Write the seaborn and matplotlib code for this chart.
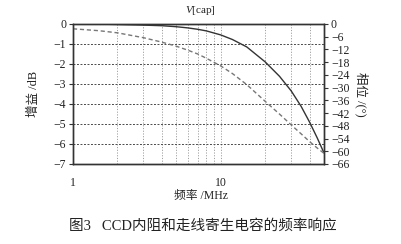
import numpy as np
import pandas as pd
import matplotlib
matplotlib.use("Agg")
import matplotlib.pyplot as plt
from matplotlib.ticker import FixedLocator, NullFormatter
import seaborn as sns

# Data
freq_mhz = [1, 1.5, 2, 3, 4, 5, 6, 7, 8, 10, 12, 15, 20, 25, 30, 35, 40, 45, 50]
gain_db = [0.0, -0.01, -0.03, -0.06, -0.09, -0.14, -0.20, -0.27, -0.35, -0.55,
           -0.78, -1.15, -1.90, -2.62, -3.35, -4.12, -4.92, -5.70, -6.45]
phase_deg = [-2.3, -3.2, -4.2, -6.5, -8.6, -10.5, -12.4, -14.2, -16.2, -19.8,
             -23.4, -28.6, -36.5, -42.5, -47.6, -51.8, -55.5, -58.5, -61.0]
gain_ticks = [0, -1, -2, -3, -4, -5, -6, -7]
phase_ticks = [0, -6, -12, -18, -24, -30, -36, -42, -48, -54, -60, -66]
x_major = [1, 10]
x_grid = [2, 3, 4, 5, 6, 7, 8, 9, 10, 20, 30, 40]

sns.set_theme(style="white")
plt.rcParams['font.family'] = ['Liberation Serif', 'Noto Sans CJK SC', 'DejaVu Sans']
plt.rcParams['mathtext.fontset'] = 'custom'
plt.rcParams['mathtext.it'] = 'Liberation Serif:italic'
plt.rcParams['mathtext.rm'] = 'Liberation Serif'
plt.rcParams['axes.unicode_minus'] = True

df = pd.DataFrame({"freq": freq_mhz, "gain": gain_db, "phase": phase_deg})

fig = plt.figure(figsize=(4.01, 2.44), dpi=100)
ax = fig.add_axes([0.182, 0.328, 0.626, 0.574])
ax2 = ax.twinx()

ax.set_xscale("log")

# grids
for xv in x_grid:
    ax.axvline(xv, color="#a0a0a0", lw=0.7, ls=(0, (1.2, 1.6)), zorder=0.5)
for yv in gain_ticks[1:-1]:
    ax.axhline(yv, color="#4a4a4a", lw=0.7, ls=(0, (2, 1.6)), zorder=0.5)

sns.lineplot(data=df, x="freq", y="gain", ax=ax, color="#333333", lw=1.0,
             estimator=None, sort=True)
sns.lineplot(data=df, x="freq", y="phase", ax=ax2, color="#777777", lw=1.0,
             estimator=None, sort=True, linestyle=(0, (3, 2)))

ax.set_xlim(1, 50)
ax.set_ylim(-7, 0)
ax2.set_ylim(-66, 0)

ax.xaxis.set_major_locator(FixedLocator(x_major))
ax.set_xticklabels([str(v) for v in x_major])
ax.xaxis.set_minor_locator(FixedLocator([v for v in x_grid if v not in x_major]))
ax.xaxis.set_minor_formatter(NullFormatter())
ax.set_yticks(gain_ticks)
ax.set_yticklabels([f"{v}".replace("-", "\u2212") for v in gain_ticks])
ax2.set_yticks(phase_ticks)
ax2.set_yticklabels([f"{v}".replace("-", "\u2212") for v in phase_ticks])

for a in (ax, ax2):
    for s in a.spines.values():
        s.set_color("#333333")
        s.set_linewidth(1.0)
ax.tick_params(axis="y", direction="out", length=3, width=0.8, color="#333333",
               labelsize=8.5, labelcolor="#222222", pad=2)
ax.tick_params(axis="x", which="both", direction="inout", length=3, width=0.8,
               color="#333333", labelsize=8.5, labelcolor="#222222", pad=8)
ax2.tick_params(axis="y", direction="out", length=3, width=0.8, color="#333333",
                labelsize=8.5, labelcolor="#222222", pad=2)

ax.set_xlabel("")
ax.set_ylabel("增益 /dB", fontsize=9, color="#222222", labelpad=10)
ax2.set_ylabel("相位 /(°)", fontsize=9, color="#222222", rotation=270,
               labelpad=14)

fig.text(0.5, 0.958, "$V$[cap]", ha="center", va="center", fontsize=8,
         color="#222222")
fig.text(0.5, 0.197, "频率 /MHz", ha="center", va="center", fontsize=8.5,
         color="#222222")
fig.text(0.507, 0.074, "图3   CCD内阻和走线寄生电容的频率响应", ha="center",
         va="center", fontsize=10.5, color="#222222")

fig.savefig("out.png", dpi=100, facecolor="white")
